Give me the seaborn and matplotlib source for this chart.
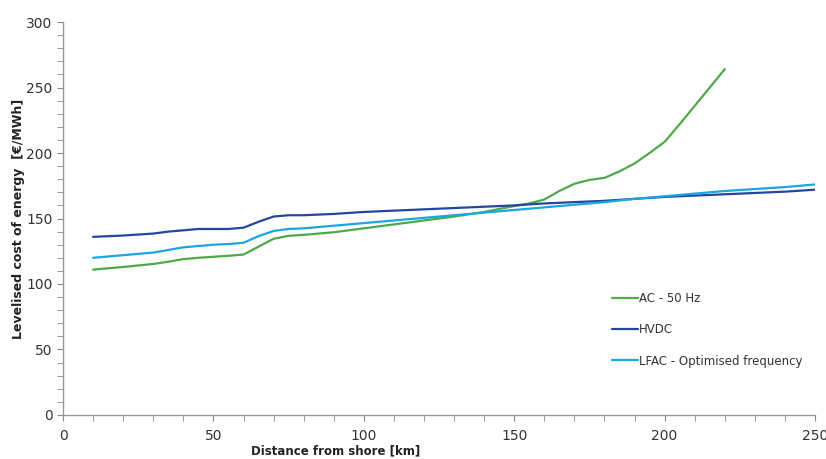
import pandas as pd
import numpy as np
import seaborn as sns
import matplotlib.pyplot as plt
from matplotlib.ticker import MultipleLocator

# distance from shore [km] and levelised cost [EUR/MWh]
dist_ac = [10, 20, 30, 35, 40, 45, 50, 55, 60, 65, 70, 75, 80, 90, 100, 110,
           120, 130, 140, 150, 155, 160, 165, 170, 175, 180, 185, 190, 195,
           200, 205, 210, 215, 220]
ac_50hz = [111, 113, 115.3, 117, 119, 120, 120.8, 121.5, 122.5, 128.5, 134.5,
           136.8, 137.5, 139.5, 142.5, 145.5, 148.5, 151.5, 155, 159.5, 161.5,
           164.5, 171, 176.5, 179.5, 181, 186, 192, 200, 208.5, 222, 236,
           250, 264]

dist = [10, 20, 30, 35, 40, 45, 50, 55, 60, 65, 70, 75, 80, 90, 100, 110, 120,
        130, 140, 150, 160, 170, 180, 190, 200, 210, 220, 230, 240, 250]
hvdc = [136, 137, 138.5, 140, 141, 142, 142, 142, 143, 147.5, 151.5, 152.5,
        152.5, 153.5, 155, 156, 157, 158, 159, 160, 161.5, 162.5, 163.5, 165,
        166.5, 167.5, 168.5, 169.5, 170.5, 172]
lfac = [120, 122, 124, 126, 128, 129, 130, 130.5, 131.5, 136.5, 140.5, 142,
        142.5, 144.5, 146.5, 148.5, 150.5, 152.5, 154.5, 156.5, 158.5, 160.5,
        162.5, 165, 167, 169, 171, 172.5, 174, 176]

labels = ["AC - 50 Hz", "HVDC", "LFAC - Optimised frequency"]
colors = ["#4fa84a", "#25479a", "#1ba6e1"]

ac_df = pd.DataFrame({"km": dist_ac, "cost": ac_50hz, "series": labels[0]})
hv_df = pd.DataFrame({"km": dist, "cost": hvdc, "series": labels[1]})
lf_df = pd.DataFrame({"km": dist, "cost": lfac, "series": labels[2]})
data = pd.concat([ac_df, hv_df, lf_df], ignore_index=True)

sns.set_style("white")
plt.rcParams["font.family"] = ["DejaVu Sans"]

fig = plt.figure(figsize=(8.26, 4.59), dpi=100)
ax = fig.add_axes([0.0763, 0.0959, 0.9104, 0.8561])

sns.lineplot(data=data, x="km", y="cost", hue="series", hue_order=labels,
             palette=colors, linewidth=1.6, ax=ax)

ax.set_xlim(0, 250)
ax.set_ylim(0, 300)
ax.xaxis.set_major_locator(MultipleLocator(50))
ax.xaxis.set_minor_locator(MultipleLocator(10))
ax.yaxis.set_major_locator(MultipleLocator(50))
ax.yaxis.set_minor_locator(MultipleLocator(10))
ax.tick_params(which="both", direction="out", color="#888888",
               bottom=True, left=True)
ax.tick_params(which="major", length=4, labelsize=10, labelcolor="#333333")
ax.tick_params(which="minor", length=4)
ax.tick_params(axis="x", pad=6)

for s in ["top", "right"]:
    ax.spines[s].set_visible(False)
for s in ["left", "bottom"]:
    ax.spines[s].set_color("#999999")
    ax.spines[s].set_linewidth(1.0)

ax.set_xlabel("Distance from shore [km]", fontsize=8.5, fontweight="bold",
              color="#222222")
ax.xaxis.set_label_coords(0.363, -0.075)
ax.set_ylabel("Levelised cost of energy  [\u20ac/MWh]", fontsize=9,
              fontweight="bold", color="#222222")
ax.yaxis.set_label_coords(-0.05, 0.5)

leg = ax.legend(loc="upper left", bbox_to_anchor=(0.716, 0.34),
                frameon=False, fontsize=8.5, handlelength=2.2,
                handletextpad=0.1, labelspacing=1.55)
for t in leg.get_texts():
    t.set_color("#333333")

fig.savefig("out.png", dpi=100)
